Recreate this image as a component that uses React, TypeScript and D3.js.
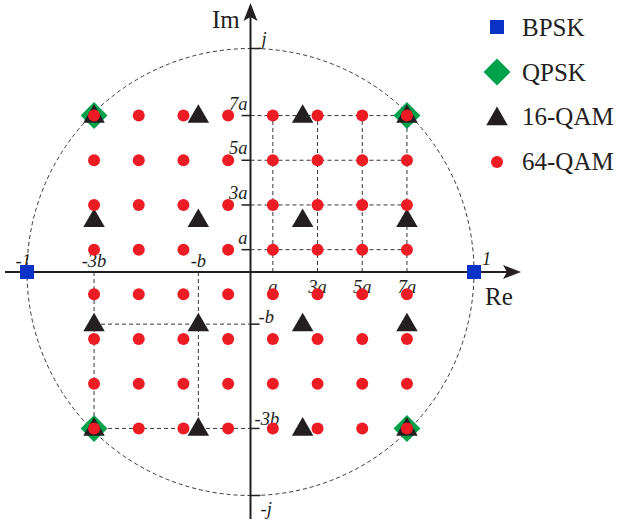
import React from "react";
import * as d3 from "d3";

const A = 0.1;
const B = (7 * A) / 3;
const qam64Levels = [-7, -5, -3, -1, 1, 3, 5, 7];
const qam16Levels = [-3, -1, 1, 3];
const qpskLevels = [-7, 7];
const bpskLevels = [-1, 1];
const xTickLabels = ["a", "3a", "5a", "7a"];
const xTickValues = [1, 3, 5, 7];
const legendItems = ["BPSK", "QPSK", "16-QAM", "64-QAM"];

const RED = "#ed1c24";
const BLUE = "#0b32c6";
const GREEN = "#00a14b";
const BLACK = "#231f20";
const FONT = "'Liberation Serif', 'Times New Roman', serif";

export default function App() {
  const W = 618, H = 521;
  const cx = 250.5, cy = 272, R = 223.5;
  const x = d3.scaleLinear().domain([-1, 1]).range([cx - R, cx + R]);
  const y = d3.scaleLinear().domain([-1, 1]).range([cy + R, cy - R]);

  const qam64 = qam64Levels.flatMap((i) => qam64Levels.map((q) => [i * A, q * A]));
  const qam16 = qam16Levels.flatMap((i) => qam16Levels.map((q) => [i * B, q * B]));
  const qpsk = qpskLevels.flatMap((i) => qpskLevels.map((q) => [i * A, q * A]));
  const bpsk = bpskLevels.map((i) => [i, 0]);

  const tri = d3.symbol().type(d3.symbolTriangle).size(200)()!;
  const dash = "4,3";

  return (
    <svg width={W} height={H} style={{ position: "absolute", left: 0, top: 0 }} fontFamily={FONT}>
      <rect width={W} height={H} fill="#fff" />
      <circle cx={x(0)} cy={y(0)} r={x(1) - x(0)} fill="none" stroke={BLACK} strokeWidth={0.9} strokeDasharray={dash} />
      {xTickValues.map((v) => (
        <g key={"g1" + v}>
          <line x1={x(0)} x2={x(7 * A)} y1={y(v * A)} y2={y(v * A)} stroke={BLACK} strokeWidth={0.9} strokeDasharray={dash} />
          <line x1={x(v * A)} x2={x(v * A)} y1={y(0)} y2={y(7 * A)} stroke={BLACK} strokeWidth={0.9} strokeDasharray={dash} />
        </g>
      ))}
      {[1, 3].map((v) => (
        <g key={"g3" + v}>
          <line x1={x(-3 * B)} x2={x(0)} y1={y(-v * B)} y2={y(-v * B)} stroke={BLACK} strokeWidth={0.9} strokeDasharray={dash} />
          <line x1={x(-v * B)} x2={x(-v * B)} y1={y(0)} y2={y(-3 * B)} stroke={BLACK} strokeWidth={0.9} strokeDasharray={dash} />
        </g>
      ))}
      <line x1={5} x2={508} y1={y(0)} y2={y(0)} stroke={BLACK} strokeWidth={2} />
      <path d={`M521,${y(0)} L503,${y(0) - 7} L507,${y(0)} L503,${y(0) + 7} Z`} fill={BLACK} />
      <line x1={x(0)} x2={x(0)} y1={519} y2={16} stroke={BLACK} strokeWidth={2} />
      <path d={`M${x(0)},3 L${x(0) - 7},21 L${x(0)},17 L${x(0) + 7},21 Z`} fill={BLACK} />
      {xTickValues.map((v) => (
        <line key={"yt" + v} x1={x(0) - 9} x2={x(0)} y1={y(v * A)} y2={y(v * A)} stroke={BLACK} strokeWidth={1.5} />
      ))}
      {[1, 3].map((v) => (
        <line key={"ytb" + v} x1={x(0)} x2={x(0) + 9} y1={y(-v * B)} y2={y(-v * B)} stroke={BLACK} strokeWidth={1.5} />
      ))}
      <line x1={x(0)} x2={x(0) + 10} y1={y(1)} y2={y(1)} stroke={BLACK} strokeWidth={1.5} />
      <line x1={x(0)} x2={x(0) + 10} y1={y(-1)} y2={y(-1)} stroke={BLACK} strokeWidth={1.5} />
      <g fill={BLACK} fontSize={18.5} fontStyle="italic">
        {xTickValues.map((v, i) => (
          <text key={"xl" + v} x={x(v * A)} y={y(0) + 21} textAnchor="middle">{xTickLabels[i]}</text>
        ))}
        {xTickValues.map((v, i) => (
          <text key={"yl" + v} x={x(0) - 3} y={y(v * A) - 6} textAnchor="end">{xTickLabels[i]}</text>
        ))}
        <text x={x(-3 * B)} y={y(0) - 5} textAnchor="middle">-3b</text>
        <text x={x(-B)} y={y(0) - 5} textAnchor="middle">-b</text>
        <text x={x(0) + 8} y={y(-B) - 1}>-b</text>
        <text x={x(0) + 4} y={y(-3 * B) - 3}>-3b</text>
        <text x={x(-1) + 4} y={y(0) - 5} textAnchor="end">-1</text>
        <text x={x(1) + 8} y={y(0) - 7}>1</text>
        <text x={x(0) + 11} y={y(1) - 4}>j</text>
        <text x={x(0) + 10} y={y(-1) + 19}>-j</text>
      </g>
      <text x={212} y={28} fontSize={25} fill={BLACK}>Im</text>
      <text x={485} y={305} fontSize={25} fill={BLACK}>Re</text>
      {qpsk.map(([i, q], k) => (
        <rect key={"qp" + k} x={-9.5} y={-9.5} width={19} height={19} fill={GREEN}
          transform={`translate(${x(i)},${y(q)}) rotate(45)`} />
      ))}
      {qam16.map(([i, q], k) => (
        <path key={"q16" + k} d={tri} fill={BLACK} transform={`translate(${x(i)},${y(q) + 1})`} />
      ))}
      {qam64.map(([i, q], k) => (
        <circle key={"q64" + k} cx={x(i)} cy={y(q)} r={6} fill={RED} />
      ))}
      {bpsk.map(([i, q], k) => (
        <rect key={"bp" + k} x={x(i) - 7} y={y(q) - 7} width={14} height={14} fill={BLUE} />
      ))}
      <g fill={BLACK} fontSize={25}>
        <rect x={490} y={20} width={14} height={14} fill={BLUE} />
        <rect x={-9.5} y={-9.5} width={19} height={19} fill={GREEN} transform="translate(497,72) rotate(45)" />
        <path d={tri} fill={BLACK} transform="translate(497,119)" />
        <circle cx={497} cy={162} r={6} fill={RED} />
        {legendItems.map((t, i) => (
          <text key={t} x={522} y={36 + i * 44.7}>{t}</text>
        ))}
      </g>
    </svg>
  );
}
